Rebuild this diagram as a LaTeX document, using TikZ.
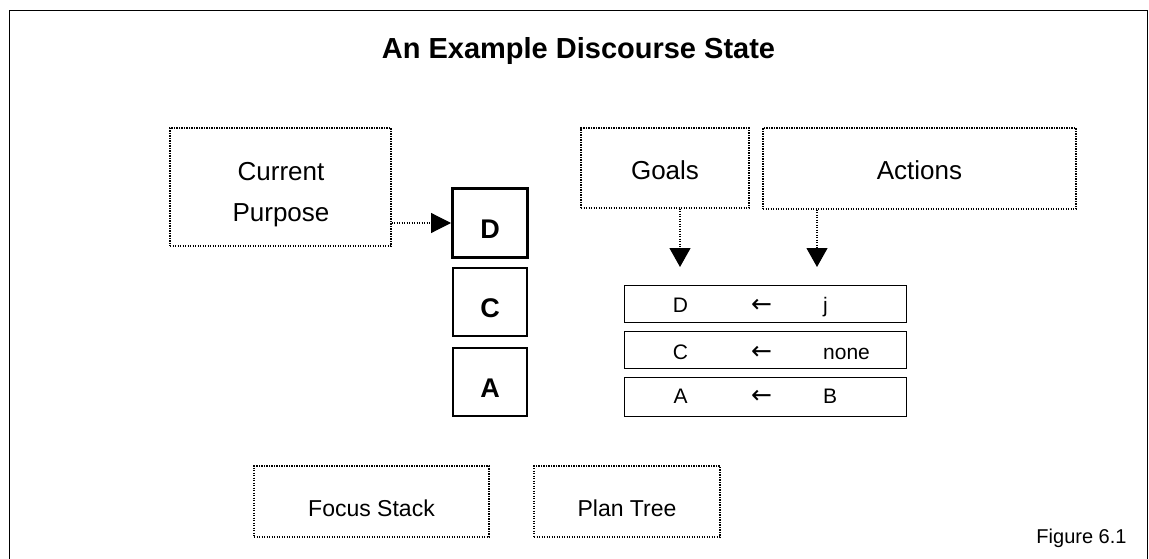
\documentclass[tikz,border=0pt]{standalone}
\usepackage{fontspec}
\setmainfont{Liberation Sans}
\newfontfamily\arrowfont{DejaVu Sans}
\usetikzlibrary{arrows.meta}
\begin{document}
\begin{tikzpicture}[x=1pt, y=-1pt,
  frame/.style={draw, line width=1.6pt},
  dotbox/.style={draw, line width=1.2pt, dash pattern=on 1.2pt off 1.3pt, inner sep=0pt},
  dotline/.style={line width=1.2pt, dash pattern=on 1.2pt off 1.3pt},
  toplabel/.style={font=\fontsize{26}{26}\selectfont, text height=22pt, text depth=0pt},
  botlabel/.style={font=\fontsize{23}{23}\selectfont, text height=29pt, text depth=0pt},
  stackbox/.style={draw, line width=1.6pt, inner sep=0pt, minimum width=74.5pt, minimum height=68.5pt,
    font=\fontsize{27}{27}\selectfont\bfseries, text height=30pt, text depth=0pt},
  rowbox/.style={draw, line width=1.6pt, inner sep=0pt, minimum width=282pt},
  rowtext/.style={font=\fontsize{21}{21}\selectfont, anchor=base, inner sep=0pt},
  rowarrow/.style={font=\fontsize{25}{25}\arrowfont, anchor=base, inner sep=0pt},
  word/.style={font=\fontsize{26}{26}\selectfont, anchor=base, inner sep=0pt},
  bigtip/.style={-{Triangle[width=21pt,length=19pt]}}
]
\clip (0,0) rectangle (1149,559);
\fill[white] (0,0) rectangle (1149,559);

% outer frame, running off the bottom edge
\draw[frame] (9.5,10.5) rectangle (1147.5,600);

% heading
\node[font=\fontsize{29}{29}\selectfont\bfseries, anchor=base, inner sep=0pt] (title) at (578.5,59)
  {An Example Discourse State};

% current purpose
\node[dotbox, minimum width=221pt, minimum height=118pt] (cp) at (280.5,187) {};
\node[word] (cpa) at (281,180) {Current};
\node[word] (cpb) at (281,222) {Purpose};

% focus stack
\node[stackbox, line width=3pt, minimum width=75pt, minimum height=69pt] (sD) at (490,223) {D};
\node[stackbox] (sC) at (490,302) {C};
\node[stackbox] (sA) at (490,382) {A};

\draw[dotline, -{Triangle[width=20pt,length=20pt]}] (cp.east |- sD.west) -- (sD.west);

% goals and actions
\node[dotbox, toplabel, minimum width=168pt, minimum height=80pt] (goals) at (665,168) {Goals};
\node[dotbox, toplabel, minimum width=313pt, minimum height=81pt] (actions) at (919.5,168.5) {Actions};

\coordinate (gtip) at (680,267);
\coordinate (atip) at (817,267);
\draw[dotline, bigtip] (goals.south -| gtip) -- (gtip);
\draw[dotline, bigtip] (actions.south -| atip) -- (atip);

% plan tree rows
\node[rowbox, minimum height=37pt] (r1) at (765.5,304) {};
\node[rowbox, minimum height=37pt] (r2) at (765.5,350) {};
\node[rowbox, minimum height=39pt] (r3) at (765.5,397) {};

\node[rowtext] (r1a) at (680.5,312.7) {D};
\node[rowarrow] (r1b) at (761.5,312.7) {←};
\node[rowtext, anchor=base west] (r1c) at (823,312.7) {j};

\node[rowtext] (r2a) at (680.5,359) {C};
\node[rowarrow] (r2b) at (761.5,359) {←};
\node[rowtext, anchor=base west] (r2c) at (823,359) {none};

\node[rowtext] (r3a) at (680.5,403) {A};
\node[rowarrow] (r3b) at (761.5,403) {←};
\node[rowtext, anchor=base west] (r3c) at (823,403) {B};

% captions of the two structures
\node[dotbox, botlabel, minimum width=235pt, minimum height=71pt] (focus) at (371.5,501.5) {Focus Stack};
\node[dotbox, botlabel, minimum width=186pt, minimum height=71pt] (plan) at (627,501.5) {Plan Tree};

\node[font=\fontsize{20}{20}\selectfont, anchor=base, inner sep=0pt] (fig) at (1081.5,543) {Figure 6.1};
\end{tikzpicture}
\end{document}
